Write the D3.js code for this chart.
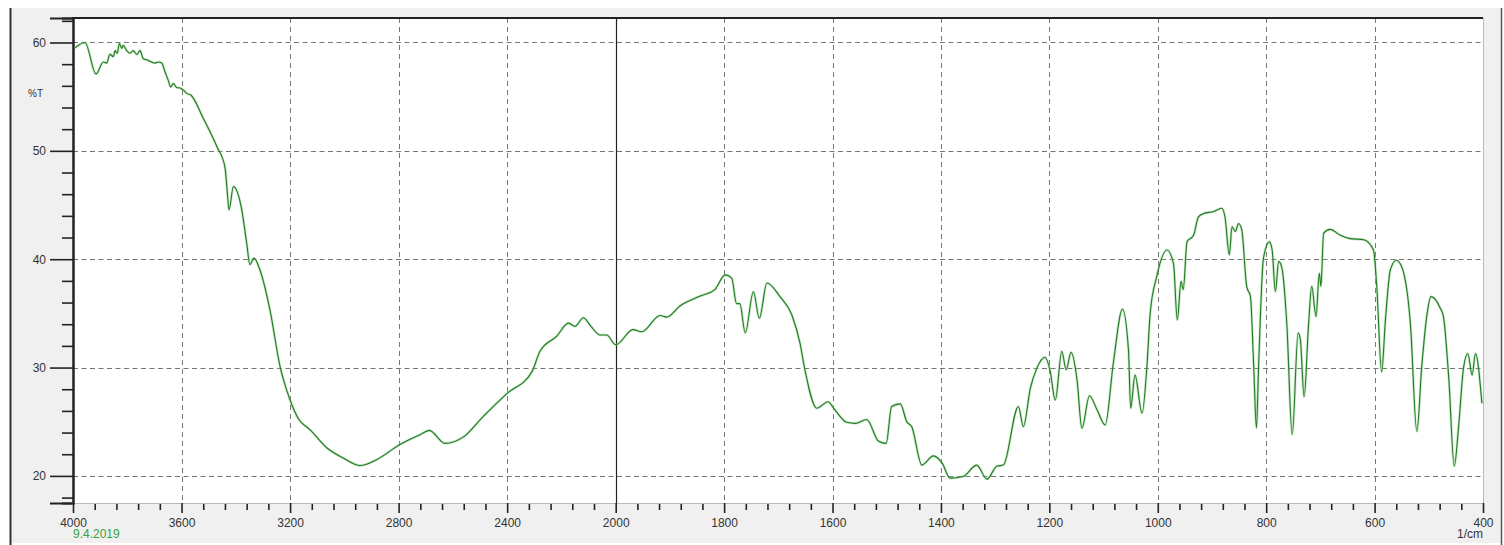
<!DOCTYPE html>
<html>
<head>
<meta charset="utf-8">
<script src="https://cdn.jsdelivr.net/npm/d3@7"></script>
<style>
  body { margin: 0; background: #fff; }
  svg text { font-family: "Liberation Sans", Arial, sans-serif; }
</style>
</head>
<body>
<div id="chart"></div>
<script>
// wavenumber (1/cm) and %T
var wavenumbers = [
  3993, 3956, 3915, 3888, 3876, 3864, 3851, 3845, 3837, 3829, 3820, 3815, 3802, 3790, 3778, 3765, 3753,
  3741, 3728, 3710, 3698, 3686, 3673, 3661, 3649, 3640, 3630, 3618, 3606, 3593, 3581, 3566, 3520,
  3470, 3440, 3433, 3425, 3409, 3378, 3360, 3348, 3333, 3311, 3274, 3237, 3200, 3170, 3126, 3065,
  3004, 2942, 2881, 2795, 2721, 2687, 2629, 2561, 2488, 2401, 2309, 2279, 2217, 2174, 2150, 2119,
  2094, 2057, 2033, 2000, 1968, 1952, 1918, 1906, 1881, 1844, 1817, 1798, 1786, 1777, 1771, 1761,
  1746, 1735, 1721, 1697, 1675, 1660, 1651, 1629, 1608, 1598, 1574, 1558, 1537, 1515, 1501, 1491,
  1475, 1463, 1454, 1435, 1414, 1398, 1383, 1359, 1334, 1315, 1297, 1285, 1257, 1248, 1235, 1223,
  1208, 1199, 1189, 1177, 1169, 1160, 1149, 1140, 1126, 1112, 1097, 1082, 1065, 1054, 1050, 1042,
  1029, 1020, 1014, 1002, 983, 971, 964, 957, 953, 946, 934, 925, 916, 897, 882, 876, 868, 863,
  857, 851, 845, 836, 829, 823, 818, 814, 805, 794, 789, 783, 777, 771, 762, 752, 741, 737, 730,
  722, 716, 708, 702, 699, 694, 682, 663, 645, 620, 602, 596, 587, 580, 571, 560, 550, 534, 522,
  513, 503, 496, 479, 473, 463, 453, 445, 436, 428, 420, 414, 402
];
var transmittance = [
  59.5, 60.0, 57.1, 58.2, 58.1, 58.9, 58.7, 59.25, 59.0, 59.9, 59.45, 59.75, 59.25, 59.0, 59.25, 58.9, 59.25,
  58.5, 58.4, 58.2, 58.1, 58.2, 58.1, 57.3, 56.5, 55.9, 56.2, 55.85, 55.8, 55.6, 55.3, 55.15, 53.0,
  50.4, 48.5, 46.7, 44.55, 46.7, 44.55, 41.5, 39.5, 40.1, 39.0, 35.3, 30.1, 27.0, 25.3, 24.25, 22.6,
  21.65, 20.96, 21.5, 22.9, 23.8, 24.2, 23.0, 23.6, 25.5, 27.6, 29.6, 31.5, 32.9, 34.1, 33.8, 34.6,
  33.9, 33.0, 33.0, 32.1, 33.5, 33.3, 34.8, 34.65, 35.7, 36.6, 37.2, 38.55, 38.25, 35.9, 35.9, 33.2,
  37.0, 34.55, 37.8, 36.55, 34.85, 32.25, 29.8, 26.25, 26.85, 26.25, 24.95, 24.85, 25.2, 23.2, 23.0, 26.4,
  26.65, 25.0, 24.55, 21.0, 21.85, 21.2, 19.8, 19.95, 21.0, 19.7, 20.9, 21.0, 26.4, 24.55, 28.1, 29.95,
  30.95, 29.8, 27.0, 31.5, 29.8, 31.4, 28.9, 24.4, 27.4, 26.1, 24.7, 30.4, 35.4, 31.6, 26.25, 29.3,
  25.8, 30.1, 35.0, 38.4, 40.85, 39.6, 34.4, 37.95, 37.2, 41.6, 42.2, 43.9, 44.2, 44.4, 44.7, 43.9, 40.4, 43.0,
  42.55, 43.3, 42.7, 37.5, 36.55, 30.1, 24.4, 30.1, 40.1, 41.6, 40.85, 37.0, 39.8, 39.2, 34.1, 23.8, 33.2, 32.6, 27.3,
  33.8, 37.5, 34.7, 38.7, 37.5, 42.4, 42.75, 42.2, 41.9, 41.8, 40.85, 37.5, 29.6, 34.4, 39.0, 39.9, 39.3, 34.1, 24.1,
  30.1, 35.0, 36.55, 35.5, 34.7, 28.9, 20.9, 24.55, 29.95, 31.3, 29.3, 31.3, 26.7
];

var yMajor = [20, 30, 40, 50, 60];
var yMinor = [18, 22, 24, 26, 28, 32, 34, 36, 38, 42, 44, 46, 48, 52, 54, 56, 58, 62];
var xMajor = [4000, 3600, 3200, 2800, 2400, 2000, 1800, 1600, 1400, 1200, 1000, 800, 600, 400];
var xGrid = [3600, 3200, 2800, 2400, 1800, 1600, 1400, 1200, 1000, 800, 600];
var xMinorLeft = d3.range(4000, 2000, -80);   // minor ticks every 80 on the 4000-2000 part
var xMinorRight = d3.range(2000, 400, -40);   // every 40 on the 2000-400 part
var dateLabel = "9.4.2019";
var yLabel = "%T";
var xUnit = "1/cm";

var width = 1504, height = 545;
// note: can't call it "top", that's window.top
var pLeft = 73, pRight = 1483, pTop = 18, pBottom = 503;

var svg = d3.select('#chart').append('svg')
    .attr('width', width)
    .attr('height', height);

// grey panel behind the plot
svg.append('rect').attr('x', 10).attr('y', 8).attr('width', 1492).attr('height', 535)
    .attr('fill', '#f0f0f0');
svg.append('line').attr('x1', 10.5).attr('x2', 10.5).attr('y1', 8).attr('y2', 545)
    .attr('stroke', '#333').attr('stroke-width', 2);
svg.append('line').attr('x1', 1501.5).attr('x2', 1501.5).attr('y1', 8).attr('y2', 545)
    .attr('stroke', '#555').attr('stroke-width', 1.5);

// x scale is split: 4000-2000 compressed, 2000-400 expanded
var x = d3.scaleLinear().domain([4000, 2000, 400]).range([pLeft, 615.7, pRight]);
var y = d3.scaleLinear().domain([17.5, 62.26]).range([pBottom, pTop]);

svg.append('rect').attr('x', pLeft).attr('y', pTop).attr('width', pRight - pLeft).attr('height', pBottom - pTop)
    .attr('fill', '#fff');

//grid
svg.append('g').selectAll('line').data(yMajor).enter().append('line')
    .attr('x1', pLeft).attr('x2', pRight)
    .attr('y1', function(d) { return Math.round(y(d)) + 0.5; })
    .attr('y2', function(d) { return Math.round(y(d)) + 0.5; })
    .attr('stroke', '#777').attr('stroke-dasharray', '5,3.5');
svg.append('g').selectAll('line').data(xGrid).enter().append('line')
    .attr('y1', pTop).attr('y2', pBottom)
    .attr('x1', function(d) { return Math.round(x(d)) + 0.5; })
    .attr('x2', function(d) { return Math.round(x(d)) + 0.5; })
    .attr('stroke', '#777').attr('stroke-dasharray', '5,4');

// solid divider where the scale changes
svg.append('line').attr('x1', Math.round(x(2000)) + 0.5).attr('x2', Math.round(x(2000)) + 0.5)
    .attr('y1', pTop).attr('y2', pBottom).attr('stroke', '#222').attr('stroke-width', 1.2);

// border of plot
svg.append('line').attr('x1', pLeft).attr('x2', pRight).attr('y1', pBottom + 0.5).attr('y2', pBottom + 0.5)
    .attr('stroke', '#bbb');
svg.append('line').attr('x1', pRight + 0.5).attr('x2', pRight + 0.5).attr('y1', pTop).attr('y2', pBottom)
    .attr('stroke', '#bbb');
svg.append('line').attr('x1', pLeft - 1).attr('x2', pRight).attr('y1', pTop).attr('y2', pTop)
    .attr('stroke', '#222').attr('stroke-width', 2);

// y axis
var yAxisMajor = d3.axisLeft(y).tickValues(yMajor).tickSize(23).tickPadding(4).tickFormat(d3.format('d'));
var yAxisMinor = d3.axisLeft(y).tickValues(yMinor).tickSize(11).tickFormat('');
var ya = svg.append('g').attr('transform', 'translate(' + pLeft + ',0)').call(yAxisMajor);
var ym = svg.append('g').attr('transform', 'translate(' + pLeft + ',0)').call(yAxisMinor);
[ya, ym].forEach(function(g) {
    g.select('.domain').attr('stroke', '#222').attr('stroke-width', 2);
    g.selectAll('.tick line').attr('stroke', '#222').attr('stroke-width', 1.6);
});
ya.selectAll('.tick text').attr('font-size', 12).attr('fill', '#333')
    .attr('font-family', '"Liberation Sans", Arial, sans-serif');

svg.append('text').attr('x', 28).attr('y', 97).attr('font-size', 10).attr('fill', '#333').text(yLabel);

// x axis
var xAxisMajor = d3.axisBottom(x).tickValues(xMajor).tickSize(10).tickPadding(5).tickFormat(d3.format('d'));
var xAxisMinor = d3.axisBottom(x).tickValues(xMinorLeft.concat(xMinorRight).filter(function(d) {
    return xMajor.indexOf(d) < 0;
})).tickSize(6).tickFormat('');
var xa = svg.append('g').attr('transform', 'translate(0,' + pBottom + ')').call(xAxisMajor);
var xm = svg.append('g').attr('transform', 'translate(0,' + (pBottom + 1) + ')').call(xAxisMinor);
[xa, xm].forEach(function(g) {
    g.select('.domain').remove();
    g.selectAll('.tick line').attr('stroke', '#222').attr('stroke-width', 1.6);
});
xa.selectAll('.tick text').attr('font-size', 12).attr('fill', '#333')
    .attr('font-family', '"Liberation Sans", Arial, sans-serif');

svg.append('text').attr('x', pLeft).attr('y', 538).attr('font-size', 12).attr('fill', '#3aa03a').text(dateLabel);
svg.append('text').attr('x', pRight).attr('y', 538).attr('text-anchor', 'end').attr('font-size', 12)
    .attr('fill', '#333').text(xUnit);

// spectrum - monotone so the peaks stay at the read points
var pts = wavenumbers.map(function(w, i) { return [w, transmittance[i]]; });
var line = d3.line()
    .curve(d3.curveMonotoneX)
    .x(function(d) { return x(d[0]); })
    .y(function(d) { return y(d[1]); });

svg.append('path').datum(pts)
    .attr('fill', 'none')
    .attr('stroke', '#8fd08f')
    .attr('stroke-width', 2.6)
    .attr('stroke-opacity', 0.5)
    .attr('d', line);
svg.append('path').datum(pts)
    .attr('fill', 'none')
    .attr('stroke', '#217a21')
    .attr('stroke-width', 1.1)
    .attr('stroke-linejoin', 'round')
    .attr('d', line);
</script>
</body>
</html>
